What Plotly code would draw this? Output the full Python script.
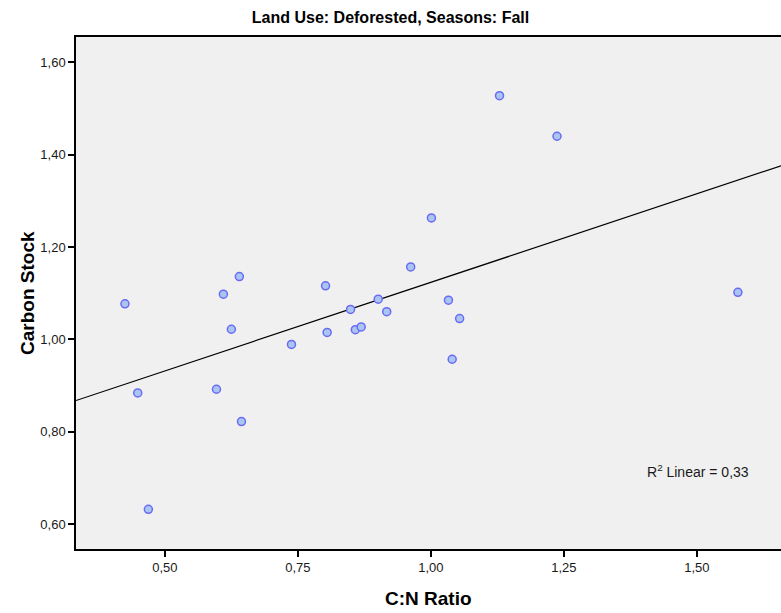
import numpy as np
import plotly.graph_objects as go

# C:N ratio vs carbon stock, deforested land, fall season
cn_ratio = [0.425, 0.449, 0.469, 0.597, 0.610, 0.625, 0.640, 0.644,
            0.738, 0.802, 0.805, 0.849, 0.858, 0.869, 0.901, 0.917,
            0.962, 1.001, 1.033, 1.040, 1.054, 1.129, 1.237, 1.577]
carbon_stock = [1.077, 0.884, 0.632, 0.892, 1.098, 1.022, 1.136, 0.822,
                0.989, 1.116, 1.015, 1.065, 1.021, 1.027, 1.087, 1.060,
                1.157, 1.263, 1.085, 0.957, 1.045, 1.528, 1.440, 1.102]

x_ticks = [0.50, 0.75, 1.00, 1.25, 1.50]
y_ticks = [0.60, 0.80, 1.00, 1.20, 1.40, 1.60]
x_range = [0.333, 1.658]
y_range = [0.546, 1.655]
r2_label = "R<sup>2</sup> Linear = 0,33"

# least-squares fit line across the full x range
slope, intercept = np.polyfit(cn_ratio, carbon_stock, 1)
fit_x = np.array(x_range)
fit_y = slope * fit_x + intercept

font = "Liberation Sans, Arial, sans-serif"

fig = go.Figure()
fig.add_trace(go.Scatter(
    x=fit_x, y=fit_y, mode="lines",
    line=dict(color="black", width=1.2),
    hoverinfo="skip", showlegend=False,
))
fig.add_trace(go.Scatter(
    x=cn_ratio, y=carbon_stock, mode="markers",
    marker=dict(size=8, color="#A9C6F2",
                line=dict(color="#6A6AF4", width=1.5)),
    showlegend=False,
))

fig.update_layout(
    width=781, height=613,
    margin=dict(l=76, r=0, t=37, b=64),
    paper_bgcolor="white",
    plot_bgcolor="#F0F0F0",
    separators=",.",
    font=dict(family=font, size=13, color="#1a1a1a"),
    title=dict(text="<b>Land Use: Deforested, Seasons: Fall</b>",
               x=0.5, xref="container", xanchor="center",
               y=1 - 17 / 613, yref="container", yanchor="middle",
               font=dict(family=font, size=16, color="black")),
    xaxis=dict(range=x_range, tickvals=x_ticks, tickformat=".2f",
               showgrid=False, zeroline=False,
               showline=True, linecolor="black", linewidth=1.5, mirror=True,
               ticks="outside", ticklen=6, tickwidth=1.5, tickcolor="black"),
    yaxis=dict(range=y_range, tickvals=y_ticks, tickformat=".2f",
               showgrid=False, zeroline=False,
               showline=True, linecolor="black", linewidth=1.5,
               ticks="outside", ticklen=6, tickwidth=1.5, tickcolor="black"),
    annotations=[
        dict(text="<b>C:N Ratio</b>", xref="paper", yref="paper",
             x=0.5, y=0, yshift=-49, showarrow=False,
             xanchor="center", yanchor="middle",
             font=dict(family=font, size=19, color="black")),
        dict(text="<b>Carbon Stock</b>", xref="paper", yref="paper",
             x=0, y=0.5, xshift=-49, textangle=-90, showarrow=False,
             xanchor="center", yanchor="middle",
             font=dict(family=font, size=19, color="black")),
        dict(text=r2_label, xref="paper", yref="paper",
             x=0.807, y=0.153, showarrow=False,
             xanchor="left", yanchor="middle",
             font=dict(family=font, size=14, color="#1a1a1a")),
    ],
)

fig.write_html("out.html")
